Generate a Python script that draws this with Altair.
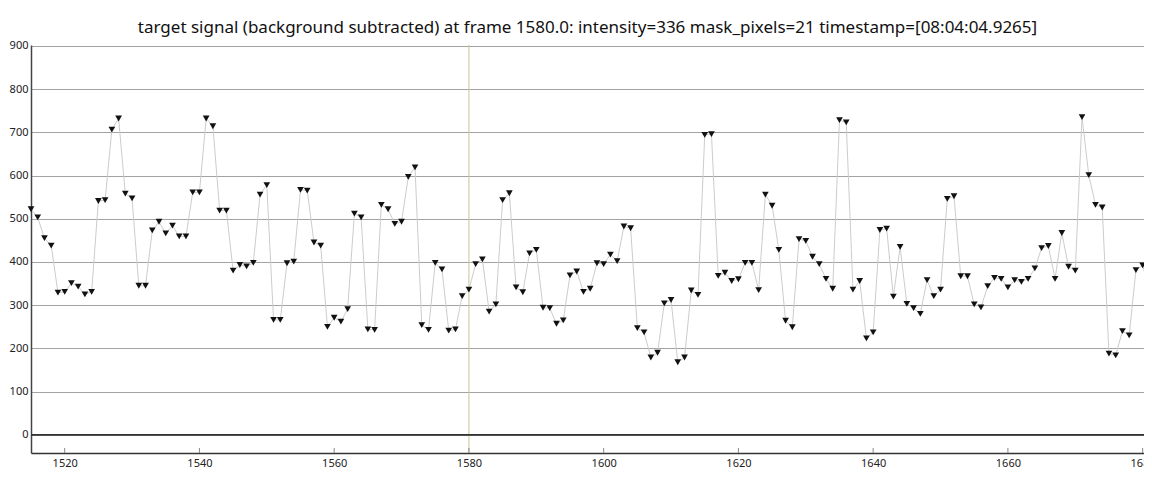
import altair as alt
import pandas as pd

FIRST_FRAME = 1515
intensity = [
    522, 503, 455, 438, 329, 331, 351, 343, 325, 331,   # 1515-1524
    541, 543, 706, 732, 558, 547, 345, 345, 473, 493,   # 1525-1534
    466, 484, 459, 459, 561, 561, 732, 714, 519, 519,   # 1535-1544
    380, 393, 390, 398, 556, 578, 266, 266, 397, 401,   # 1545-1554
    567, 565, 445, 438, 250, 271, 262, 291, 512, 503,   # 1555-1564
    244, 243, 532, 522, 488, 493, 597, 619, 254, 243,   # 1565-1574
    398, 383, 241, 244, 321, 336, 395, 406, 285, 302,   # 1575-1584
    543, 559, 341, 330, 420, 428, 294, 293, 257, 265,   # 1585-1594
    369, 378, 331, 338, 397, 395, 417, 402, 482, 478,   # 1595-1604
    247, 237, 179, 190, 304, 312, 168, 179, 334, 324,   # 1605-1614
    694, 696, 368, 375, 356, 360, 398, 398, 335, 556,   # 1615-1624
    530, 428, 264, 249, 453, 449, 412, 395, 361, 338,   # 1625-1634
    728, 723, 336, 356, 223, 237, 474, 477, 320, 435,   # 1635-1644
    303, 293, 280, 358, 321, 336, 546, 552, 367, 367,   # 1645-1654
    302, 295, 344, 363, 361, 341, 358, 354, 361, 385,   # 1655-1664
    432, 437, 361, 467, 389, 380, 735, 601, 532, 526,   # 1665-1674
    188, 184, 240, 230, 381, 392, 334,                  # 1675-1681
]
frames = list(range(FIRST_FRAME, FIRST_FRAME + len(intensity)))

x_ticks = [1520, 1540, 1560, 1580, 1600, 1620, 1640, 1660, 1680]
y_ticks = [0, 100, 200, 300, 400, 500, 600, 700, 800, 900]
cursor_frame = [1580]
zero_level = [0]
x_domain = [1515.0, 1680.2]
y_domain = [-42, 902]
title_text = ("target signal (background subtracted) at frame 1580.0: "
              "intensity=336 mask_pixels=21 timestamp=[08:04:04.9265]")

FONT = "Noto Sans"
PAD_L = 23
W, H = 1136 - PAD_L, 408

df = pd.DataFrame({"frame": frames, "intensity": intensity})
xscale = alt.Scale(domain=x_domain, nice=False, zero=False)
yscale = alt.Scale(domain=y_domain, nice=False, zero=False)

x_axis = alt.Axis(values=x_ticks, title=None, grid=False, ticks=False,
                  domainColor="#333333", domainWidth=1.5, labelFont=FONT,
                  labelFontSize=11, labelColor="#222222", labelPadding=4,
                  labelFlush=False, labelOverlap=False, format="d")
y_axis = alt.Axis(values=y_ticks, title=None, grid=True, gridColor="#a3a3a3",
                  gridWidth=1, ticks=False, domainColor="#444444", domainWidth=1.5,
                  labelFont=FONT, labelFontSize=11, labelColor="#222222",
                  labelPadding=3, labelFlush=False, labelOverlap=False, format="d")

base = alt.Chart(df)

line = base.mark_line(color="#cccccc", strokeWidth=1).encode(
    x=alt.X("frame:Q", scale=xscale, axis=x_axis),
    y=alt.Y("intensity:Q", scale=yscale, axis=y_axis),
)

points = base.mark_point(shape="triangle-down", filled=True, color="#111111",
                         size=45, opacity=1).encode(
    x=alt.X("frame:Q", scale=xscale),
    y=alt.Y("intensity:Q", scale=yscale),
)

cursor = alt.Chart(pd.DataFrame({"frame": cursor_frame})).mark_rule(
    color="#cdc592", strokeWidth=1).encode(x=alt.X("frame:Q", scale=xscale))

zero = alt.Chart(pd.DataFrame({"v": zero_level})).mark_rule(
    color="#333333", strokeWidth=1.6).encode(y=alt.Y("v:Q", scale=yscale))

ticks = alt.Chart(pd.DataFrame({"t": x_ticks})).mark_rule(
    color="#888888", strokeWidth=1).encode(
    x=alt.X("t:Q", scale=xscale), y=alt.value(H), y2=alt.value(H - 5))

chart = alt.layer(cursor, line, zero, points, ticks).properties(
    width=W, height=H,
    padding={"left": PAD_L, "top": 37, "right": 0, "bottom": 22},
    autosize=alt.AutoSizeParams(type="none"),
    title=alt.TitleParams(title_text, font=FONT, fontSize=17, fontWeight="normal",
                          color="#111111", anchor="middle", baseline="alphabetic",
                          offset=12, dy=22),
    background="white",
).configure_view(stroke=None)

chart.save("out.html", embed_options={"renderer": "svg", "actions": False})
